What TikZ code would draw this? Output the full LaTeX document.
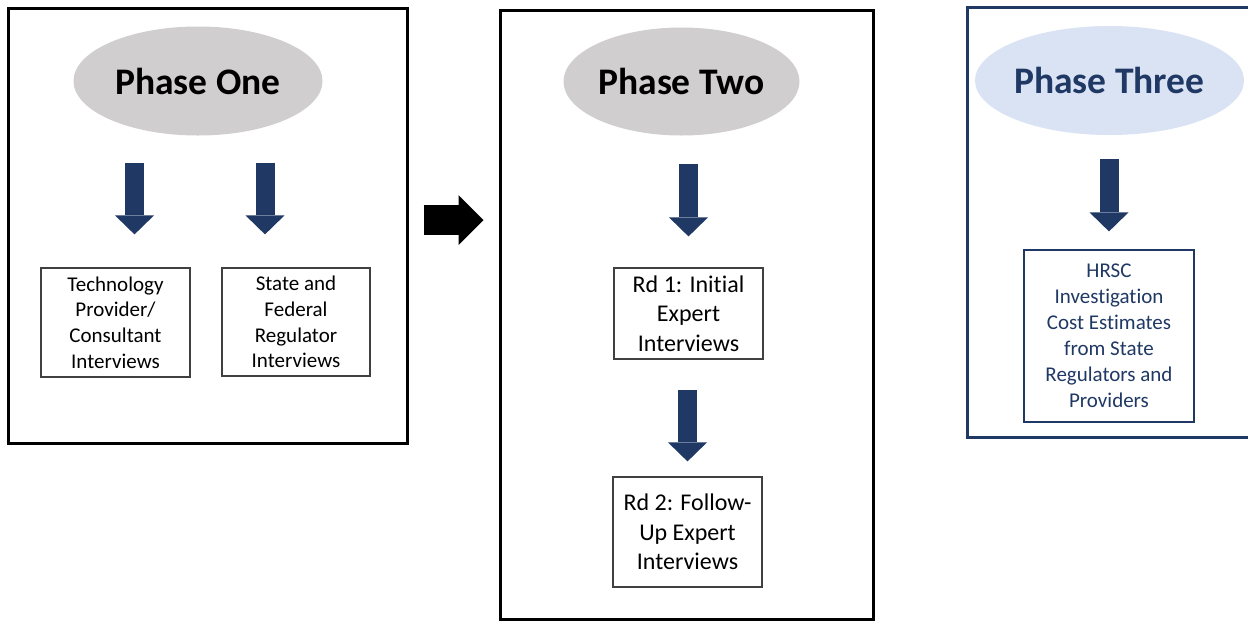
\documentclass[tikz,border=0pt]{standalone}
\usepackage{fontspec}
\setmainfont{Carlito}[Ligatures=NoCommon]
\usetikzlibrary{shapes.geometric, arrows.meta, positioning}
\definecolor{phasenavy}{RGB}{31,56,100}
\definecolor{phasegray}{RGB}{208,206,206}
\definecolor{phaseblue}{RGB}{218,227,243}
\definecolor{boxline}{RGB}{64,64,64}

\begin{document}
\begin{tikzpicture}[
    x=1pt, y=-1pt,
    phaseframe/.style={draw, line width=3pt, inner sep=0pt},
    phase/.style={ellipse, fill=phasegray, font=\fontsize{37.5}{41}\selectfont\bfseries, minimum width=249pt, minimum height=109pt, inner sep=0pt},
    task/.style={draw=boxline, line width=1.2pt, align=center, inner sep=0pt, font=\fontsize{21}{25.7}\selectfont},
    downarrow/.style={draw=phasenavy, line width=19pt, -{Triangle[width=39pt, length=19pt, line width=0pt]}},
    nextarrow/.style={draw=black, line width=30pt, -{Triangle[width=50pt, length=25pt, line width=0pt]}}
]
    \useasboundingbox (0,0) rectangle (1248,622);

    % Frames
    \node[phaseframe, minimum width=399pt, minimum height=435pt] (frameone) at (207.5,225.5) {};
    \node[phaseframe, minimum width=373pt, minimum height=609pt] (frametwo) at (686.5,314.5) {};
    \node[phaseframe, draw=phasenavy, minimum width=300pt, minimum height=430pt] (framethree) at (1117,222) {};

    % Phases
    \node[phase] (one) at (198,81) {Phase One};
    \node[phase, minimum width=236pt, minimum height=108pt] (two) at (681.5,81.5) {Phase Two};
    \node[phase, fill=phaseblue, text=phasenavy, minimum width=251pt] (three) at (1109.5,80.5) {Phase Three};

    % Tasks
    \node[task, minimum width=149pt, minimum height=109pt] (tech) at (115.5,322.5) {Technology\\Provider/\\Consultant\\Interviews};
    \node[task, minimum width=148pt, minimum height=108pt] (state) at (296,322) {State and\\Federal\\Regulator\\Interviews};
    \node[task, font=\fontsize{24}{29.3}\selectfont, minimum width=149pt, minimum height=91pt] (rdone) at (688.5,313.5) {Rd 1: Initial\\Expert\\Interviews};
    \node[task, font=\fontsize{24}{29.3}\selectfont, minimum width=149pt, minimum height=110pt] (rdtwo) at (687.5,532) {Rd 2: Follow-\\Up Expert\\Interviews};
    \node[task, draw=phasenavy, text=phasenavy, font=\fontsize{21}{26}\selectfont, minimum width=170pt, minimum height=172pt] (hrsc) at (1109,336) {HRSC\\Investigation\\Cost Estimates\\from State\\Regulators and\\Providers};

    % Arrow positions
    \coordinate (techin) at ([xshift=19pt]tech.north);
    \coordinate (statein) at ([xshift=-31pt]state.north);
    \coordinate (hop) at ([yshift=5.5pt]frameone.east);

    % Arrows
    \draw[downarrow, shorten <=27pt, shorten >=33pt] (techin |- one.south) -- (techin);
    \draw[downarrow, shorten <=27pt, shorten >=33pt] (statein |- one.south) -- (statein);
    \draw[downarrow, shorten <=28pt, shorten >=31pt] (rdone.north |- two.south) -- (rdone.north);
    \draw[downarrow, shorten <=30pt, shorten >=15pt] (rdtwo.north |- rdone.south) -- (rdtwo.north);
    \draw[downarrow, shorten <=24pt, shorten >=18pt] (hrsc.north |- three.south) -- (hrsc.north);
    \draw[nextarrow, shorten <=15pt, shorten >=15pt] (hop) -- (hop -| frametwo.west);
\end{tikzpicture}
\end{document}
